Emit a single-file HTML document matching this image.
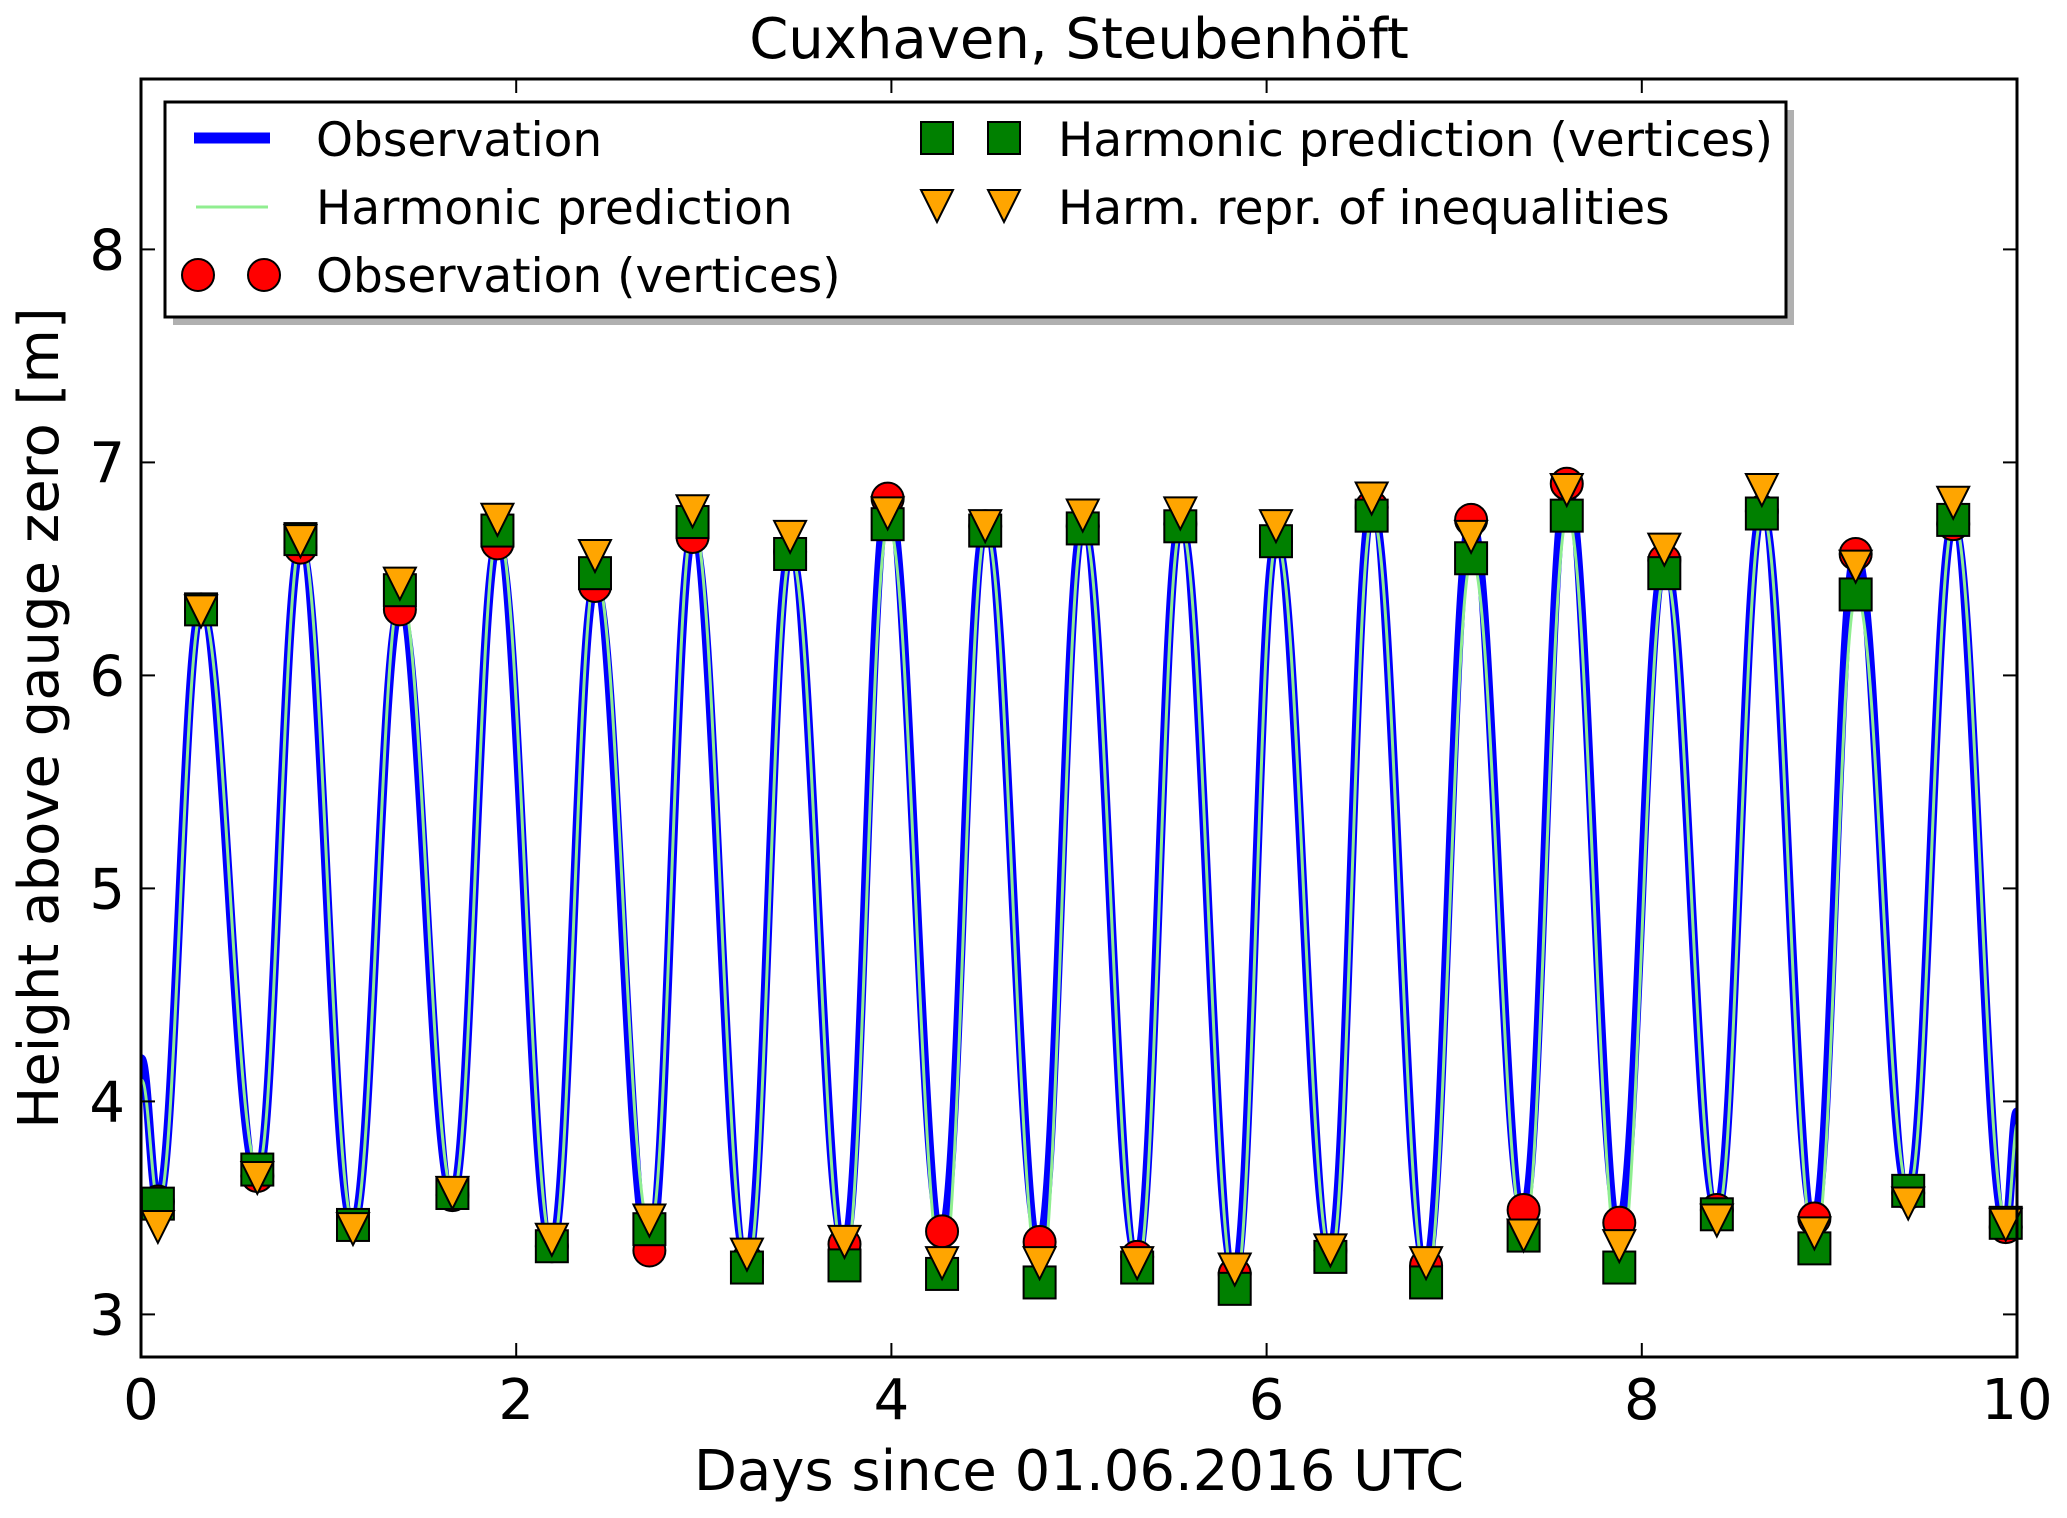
<!DOCTYPE html>
<html><head><meta charset="utf-8"><style>
html,body{margin:0;padding:0;background:#fff;}
svg{display:block;font-family:"Liberation Sans","DejaVu Sans",sans-serif;}
</style></head><body>
<svg id="chart" width="2067" height="1518" viewBox="0 0 2067 1518" xmlns="http://www.w3.org/2000/svg">
<rect width="2067" height="1518" fill="#fff"/>
<text x="1079" y="58" font-size="56" text-anchor="middle" font-family="DejaVu Sans, sans-serif">Cuxhaven, Steubenhöft</text>
<g id="plot"></g>
<g id="axes"></g>
<text x="1079" y="1490" font-size="56" text-anchor="middle" font-family="DejaVu Sans, sans-serif">Days since 01.06.2016 UTC</text>
<text transform="translate(58,718) rotate(-90)" font-size="56" text-anchor="middle" font-family="DejaVu Sans, sans-serif">Height above gauge zero [m]</text>
<g id="legend">
  <rect x="173" y="110" width="1621" height="215" fill="#b0b0b0"/>
  <rect x="165" y="102" width="1621" height="215" fill="#fff" stroke="#000" stroke-width="3"/>
  <line x1="194" y1="138" x2="270" y2="138" stroke="#0000ff" stroke-width="11"/>
  <text x="316" y="156" font-size="47" font-family="DejaVu Sans, sans-serif">Observation</text>
  <line x1="196" y1="207" x2="268" y2="207" stroke="#90ee90" stroke-width="3"/>
  <text x="316" y="224" font-size="47" font-family="DejaVu Sans, sans-serif">Harmonic prediction</text>
  <circle cx="198" cy="275" r="16" fill="#ff0000" stroke="#000" stroke-width="2"/>
  <circle cx="264" cy="275" r="16" fill="#ff0000" stroke="#000" stroke-width="2"/>
  <text x="316" y="292" font-size="47" font-family="DejaVu Sans, sans-serif">Observation (vertices)</text>
  <rect x="921" y="122" width="32" height="32" fill="#008000" stroke="#000" stroke-width="2"/>
  <rect x="988" y="122" width="32" height="32" fill="#008000" stroke="#000" stroke-width="2"/>
  <text x="1058" y="156" font-size="47" font-family="DejaVu Sans, sans-serif">Harmonic prediction (vertices)</text>
  <polygon points="921,190 953,190 937,222" fill="#ffa500" stroke="#000" stroke-width="2"/>
  <polygon points="988,190 1020,190 1004,222" fill="#ffa500" stroke="#000" stroke-width="2"/>
  <text x="1058" y="224" font-size="47" font-family="DejaVu Sans, sans-serif">Harm. repr. of inequalities</text>
</g>
</svg>
<script>
// data
const lowTimes = [0.09,0.62,1.13,1.66,2.19,2.71,3.23,3.75,4.27,4.79,5.31,5.83,6.34,6.85,7.37,7.88,8.40,8.92,9.42,9.94];
const highTimes = [0.32,0.85,1.38,1.90,2.42,2.94,3.46,3.98,4.50,5.02,5.54,6.05,6.56,7.09,7.60,8.12,8.64,9.14,9.66];
const obsLows = [3.53,3.65,3.42,3.56,3.32,3.30,3.25,3.33,3.39,3.34,3.27,3.19,3.30,3.23,3.49,3.43,3.49,3.45,3.57,3.41];
const obsHighs = [6.31,6.60,6.31,6.62,6.42,6.65,6.58,6.83,6.70,6.70,6.71,6.63,6.79,6.73,6.90,6.54,6.77,6.57,6.71];
const harmLows = [3.52,3.68,3.42,3.57,3.32,3.40,3.22,3.23,3.19,3.15,3.22,3.12,3.27,3.15,3.37,3.22,3.47,3.31,3.58,3.43];
const harmHighs = [6.31,6.64,6.40,6.68,6.48,6.72,6.57,6.71,6.68,6.69,6.70,6.63,6.75,6.55,6.75,6.48,6.76,6.38,6.73];
const ineqLows = [3.42,3.65,3.41,3.58,3.36,3.45,3.29,3.35,3.25,3.25,3.25,3.22,3.31,3.25,3.38,3.33,3.45,3.39,3.53,3.43];
const ineqHighs = [6.31,6.64,6.44,6.74,6.57,6.78,6.66,6.77,6.71,6.76,6.77,6.71,6.84,6.66,6.88,6.60,6.88,6.52,6.82];
const obsStart = 4.2, obsEnd = 3.95, harmStart = 4.1, harmEnd = 3.9;
const xTicks = [0,2,4,6,8,10];
const yTicks = [3,4,5,6,7,8];

const L=141,R=2017,T=79,B=1357, X0=0,X1=10,Y0=2.8,Y1=8.8;
const sx=v=>L+(v-X0)/(X1-X0)*(R-L);
const sy=v=>B-(v-Y0)/(Y1-Y0)*(B-T);
const NS='http://www.w3.org/2000/svg';
const plot=document.getElementById('plot'), axes=document.getElementById('axes');
function mk(tag,attrs,parent){const e=document.createElementNS(NS,tag);for(const k in attrs)e.setAttribute(k,attrs[k]);parent.appendChild(e);return e;}

const defs=mk('defs',{},plot);
const cp=mk('clipPath',{id:'clip'},defs);
mk('rect',{x:L,y:T,width:R-L,height:B-T},cp);
const g=mk('g',{'clip-path':'url(#clip)'},plot);

function seq(lows,highs,start,end){
  const pts=[[0,start]];
  for(let i=0;i<lows.length;i++){pts.push([lowTimes[i],lows[i]]);if(i<highs.length)pts.push([highTimes[i],highs[i]]);}
  pts.push([10,end]);return pts;
}
function pathD(pts,shift){
  let d='M'+sx(pts[0][0]+shift)+','+sy(pts[0][1]);
  for(let i=1;i<pts.length;i++){
    const [x0,y0]=pts[i-1],[x1,y1]=pts[i];
    const dx=(x1-x0)/2.6;
    d+=` C${sx(x0+dx+shift)},${sy(y0)} ${sx(x1-dx+shift)},${sy(y1)} ${sx(x1+shift)},${sy(y1)}`;
  }
  return d;
}
const obsLine=mk('path',{d:pathD(seq(obsLows,obsHighs,obsStart,obsEnd),0),fill:'none',stroke:'#0000ff','stroke-width':9},g);


const harmLine=mk('path',{d:pathD(seq(harmLows,harmHighs,harmStart,harmEnd),0.004),fill:'none',stroke:'#90ee90','stroke-width':3},g);



function allPts(lows,highs){const p=[];lows.forEach((v,i)=>p.push([lowTimes[i],v]));highs.forEach((v,i)=>p.push([highTimes[i],v]));return p;}
allPts(obsLows,obsHighs).forEach(([t,v])=>{
  const c=mk('circle',{cx:sx(t),cy:sy(v),r:16,fill:'#ff0000',stroke:'#000','stroke-width':2},plot);
  
  
});
allPts(harmLows,harmHighs).forEach(([t,v])=>{
  const s=mk('rect',{x:sx(t)-16,y:sy(v)-16,width:32,height:32,fill:'#008000',stroke:'#000','stroke-width':2},plot);
  
  
});
allPts(ineqLows,ineqHighs).forEach(([t,v])=>{
  const x=sx(t),y=sy(v);
  const tr=mk('polygon',{points:`${x-16},${y-14} ${x+16},${y-14} ${x},${y+18}`,fill:'#ffa500',stroke:'#000','stroke-width':2},plot);
  
  
});

const frame=mk('rect',{x:L,y:T,width:R-L,height:B-T,fill:'none',stroke:'#000','stroke-width':3},axes);


xTicks.forEach(v=>{
  const x=sx(v);
  mk('line',{x1:x,y1:B,x2:x,y2:B-14,stroke:'#000','stroke-width':2},axes);
  mk('line',{x1:x,y1:T,x2:x,y2:T+14,stroke:'#000','stroke-width':2},axes);
  const t=mk('text',{x:x,y:B+62,'font-size':56,'text-anchor':'middle','font-family':'DejaVu Sans, sans-serif'},axes);
  t.textContent=v;
  
  
});
yTicks.forEach(v=>{
  const y=sy(v);
  mk('line',{x1:L,y1:y,x2:L+14,y2:y,stroke:'#000','stroke-width':2},axes);
  mk('line',{x1:R,y1:y,x2:R-14,y2:y,stroke:'#000','stroke-width':2},axes);
  const t=mk('text',{x:L-16,y:y+20,'font-size':56,'text-anchor':'end','font-family':'DejaVu Sans, sans-serif'},axes);
  t.textContent=v;
  
  
});
</script>
</body></html>
